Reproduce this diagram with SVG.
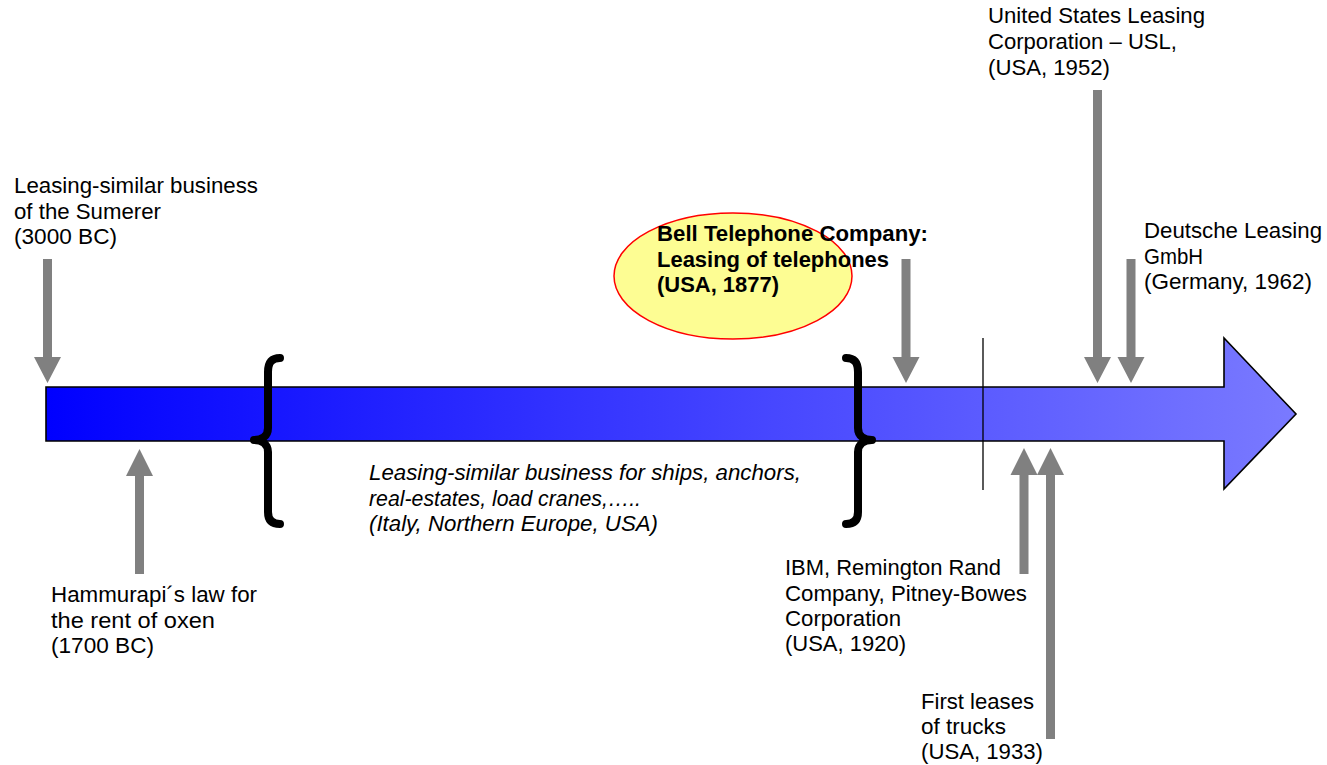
<svg xmlns="http://www.w3.org/2000/svg" width="1327" height="765" viewBox="0 0 1327 765">
<defs>
<linearGradient id="bluegrad" x1="46" y1="0" x2="1297" y2="0" gradientUnits="userSpaceOnUse">
<stop offset="0" stop-color="#0000ff"/>
<stop offset="1" stop-color="#7a7aff"/>
</linearGradient>
<style>
.t{font-family:"Liberation Sans",Arial,sans-serif;font-size:22px;fill:#000}
.i{font-style:italic}
.b{font-weight:bold}
.garrow{fill:#808080;stroke:none}
.brace{fill:none;stroke:#000;stroke-width:8;stroke-linecap:round;stroke-linejoin:round}
</style>
</defs>
<rect width="1327" height="765" fill="#fff"/>
<g id="timeline">
<path d="M46,387 L1224,387 L1224,338 L1296,414 L1224,489 L1224,441 L46,441 Z" fill="url(#bluegrad)" stroke="#000" stroke-width="1.6" stroke-linejoin="miter"/>
<line x1="983" y1="338" x2="983" y2="490" stroke="#000" stroke-width="1.3"/>
</g>
<g id="braces">
<path class="brace" d="M280,358 C272,358 268,362 268,372 L268,428 C268,436 262,440 254,440 C262,440 268,444 268,452 L268,512 C268,520 272,524 280,524"/>
<path class="brace" d="M846,358 C854,358 858,362 858,372 L858,428 C858,436 864,440 872,440 C864,440 858,444 858,452 L858,512 C858,520 854,524 846,524"/>
</g>
<g id="bell">
<ellipse cx="733" cy="276" rx="119" ry="63" fill="#fdfd93" stroke="#ff0000" stroke-width="1.5"/>
<text class="t b" x="657" y="241" textLength="271" lengthAdjust="spacingAndGlyphs">Bell Telephone Company:</text>
<text class="t b" x="657" y="267" textLength="232" lengthAdjust="spacingAndGlyphs">Leasing of telephones</text>
<text class="t b" x="657" y="292" textLength="122" lengthAdjust="spacingAndGlyphs">(USA, 1877)</text>
</g>
<g id="sumerer">
<text class="t" x="14" y="193" textLength="244" lengthAdjust="spacingAndGlyphs">Leasing-similar business</text>
<text class="t" x="14" y="219" textLength="147" lengthAdjust="spacingAndGlyphs">of the Sumerer</text>
<text class="t" x="14" y="244" textLength="103" lengthAdjust="spacingAndGlyphs">(3000 BC)</text>
</g>
<g id="hammurapi">
<text class="t" x="51" y="602" textLength="206" lengthAdjust="spacingAndGlyphs">Hammurapi´s law for</text>
<text class="t" x="51" y="628" textLength="164" lengthAdjust="spacingAndGlyphs">the rent of oxen</text>
<text class="t" x="51" y="653" textLength="103" lengthAdjust="spacingAndGlyphs">(1700 BC)</text>
</g>
<g id="ships">
<text class="t i" x="369" y="480" textLength="432" lengthAdjust="spacingAndGlyphs">Leasing-similar business for ships, anchors,</text>
<text class="t i" x="369" y="506" textLength="272" lengthAdjust="spacingAndGlyphs">real-estates, load cranes,…..</text>
<text class="t i" x="369" y="531" textLength="289" lengthAdjust="spacingAndGlyphs">(Italy, Northern Europe, USA)</text>
</g>
<g id="usl">
<text class="t" x="988" y="23" textLength="217" lengthAdjust="spacingAndGlyphs">United States Leasing</text>
<text class="t" x="988" y="49" textLength="189" lengthAdjust="spacingAndGlyphs">Corporation – USL,</text>
<text class="t" x="988" y="75" textLength="122" lengthAdjust="spacingAndGlyphs">(USA, 1952)</text>
</g>
<g id="deutsche">
<text class="t" x="1144" y="238" textLength="178" lengthAdjust="spacingAndGlyphs">Deutsche Leasing</text>
<text class="t" x="1144" y="264" textLength="59" lengthAdjust="spacingAndGlyphs">GmbH</text>
<text class="t" x="1144" y="289" textLength="168" lengthAdjust="spacingAndGlyphs">(Germany, 1962)</text>
</g>
<g id="ibm">
<text class="t" x="785" y="575" textLength="216" lengthAdjust="spacingAndGlyphs">IBM, Remington Rand</text>
<text class="t" x="785" y="601" textLength="242" lengthAdjust="spacingAndGlyphs">Company, Pitney-Bowes</text>
<text class="t" x="785" y="626" textLength="116" lengthAdjust="spacingAndGlyphs">Corporation</text>
<text class="t" x="785" y="651" textLength="121" lengthAdjust="spacingAndGlyphs">(USA, 1920)</text>
</g>
<g id="trucks">
<text class="t" x="921" y="709" textLength="113" lengthAdjust="spacingAndGlyphs">First leases</text>
<text class="t" x="921" y="734" textLength="85" lengthAdjust="spacingAndGlyphs">of trucks</text>
<text class="t" x="921" y="759" textLength="122" lengthAdjust="spacingAndGlyphs">(USA, 1933)</text>
</g>
<g id="connectors">
<path class="garrow" d="M43,259 H52 V357 H61 L47.5,383 L34,357 H43 Z"/>
<path class="garrow" d="M901.5,259 H910.5 V357 H919.5 L906,383 L892.5,357 H901.5 Z"/>
<path class="garrow" d="M1093,90 H1102 V357 H1111 L1097.5,383 L1084,357 H1093 Z"/>
<path class="garrow" d="M1126.5,259 H1135.5 V357 H1144.5 L1131,383 L1117.5,357 H1126.5 Z"/>
<path class="garrow" d="M135,574 H144 V476 H153 L139.5,449 L126,476 H135 Z"/>
<path class="garrow" d="M1019.5,574 H1028.5 V475 H1037.5 L1024,448 L1010.5,475 H1019.5 Z"/>
<path class="garrow" d="M1046,739 H1055 V475 H1064 L1050.5,448 L1037,475 H1046 Z"/>
</g>
</svg>
